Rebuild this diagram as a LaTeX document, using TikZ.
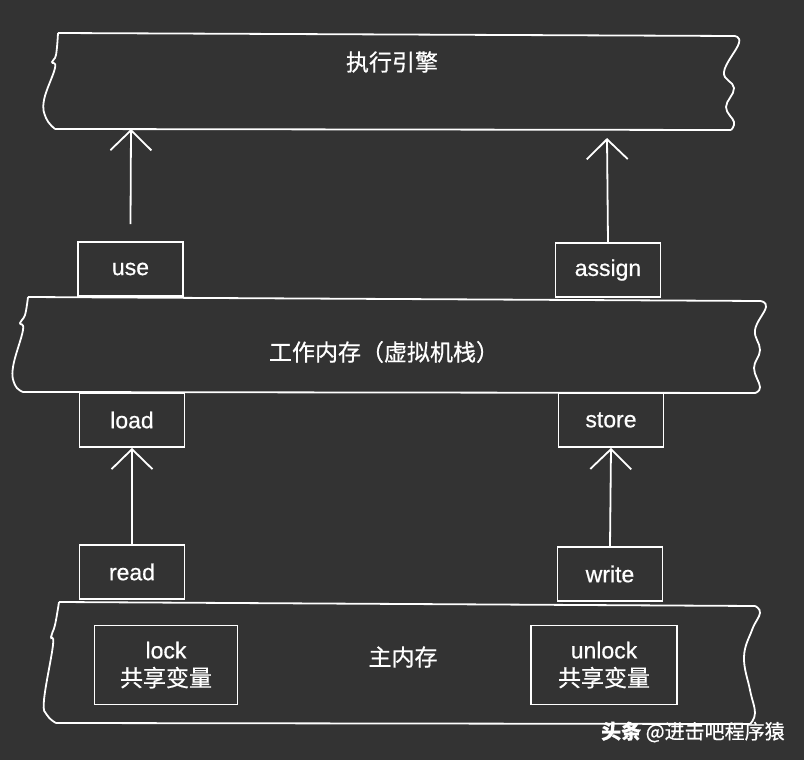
\documentclass[tikz,border=0pt]{standalone}
\usepackage{fontspec}
\setmainfont{Liberation Sans}[FakeBold=0.6]
\newfontfamily\cjk{Noto Sans CJK SC}[FakeBold=0.6]
\usetikzlibrary{arrows.meta}
\definecolor{board}{HTML}{333333}

\begin{document}
\begin{tikzpicture}[x=1pt,y=-1pt,line width=1.8pt,white,
    font=\fontsize{23}{28}\selectfont,
    >={Straight Barb[length=20pt,width=41pt]},
    op/.style={draw,minimum width=105pt,minimum height=54pt,inner sep=0pt},
    var/.style={draw,minimum width=143pt,minimum height=79pt,inner sep=0pt,align=center}]
    \fill[board] (0,0) rectangle (804,760);
    \useasboundingbox (0,0) rectangle (804,760);

    % execution engine
    \draw (58,33) -- (734,36) (55,129) -- (731,130);
    \draw plot[smooth,tension=.7] coordinates {(734,36) (739,43) (724,72) (734,88) (726,107) (734,122) (731,130)};
    \draw plot[smooth,tension=.7] coordinates {(58,33) (56,55) (52,62) (55,68) (44,100) (46,118) (55,129)};
    \node (engine) at (392,62) {\cjk 执行引擎};
    \coordinate (engineA) at (131,129);
    \coordinate (engineB) at (607,138);

    % working memory
    \draw (28,297) -- (760,301) (23,392) -- (755,393);
    \draw plot[smooth,tension=.7] coordinates {(760,301) (766,307) (755,330) (760,350) (754,368) (760,387) (755,393)};
    \draw plot[smooth,tension=.7] coordinates {(28,297) (25,315) (20,323) (23,330) (13,367) (15,385) (23,392)};
    \node (work) at (384,352) {\cjk 工作内存（虚拟机栈）};

    % main memory
    \draw (59,602) -- (755,606) (56,723) -- (750,724);
    \draw plot[smooth,tension=.7] coordinates {(755,606) (760,613) (752,630) (744,657) (750,690) (755,713) (750,724)};
    \draw plot[smooth,tension=.7] coordinates {(59,602) (55,625) (51,637) (53,645) (44,700) (47,715) (56,723)};
    \node (main) at (403,657) {\cjk 主内存};

    \node[op] (use) at (130.5,269) {use};
    \node[op] (assign) at (608,270) {assign};
    \node[op] (load) at (132,420) {load};
    \node[op] (store) at (611,420) {store};
    \node[op] (read) at (132,572) {read};
    \node[op] (write) at (610,574) {write};
    \node[var] (lock) at (166,665) {lock\\{\cjk 共享变量}};
    \node[var,minimum width=146pt] (unlock) at (604,665) {unlock\\{\cjk 共享变量}};

    \draw[->] ([yshift=17pt]use.north) -- (engineA);
    \draw[->] (assign.north) -- (engineB);
    \draw[->] (read.north) -- (load.south);
    \draw[->] (write.north) -- (store.south);

    \node[anchor=west,font=\fontsize{20}{24}\selectfont] (mark) at (597,732) {\cjk{\bfseries 头条} @进击吧程序猿};
\end{tikzpicture}
\end{document}
